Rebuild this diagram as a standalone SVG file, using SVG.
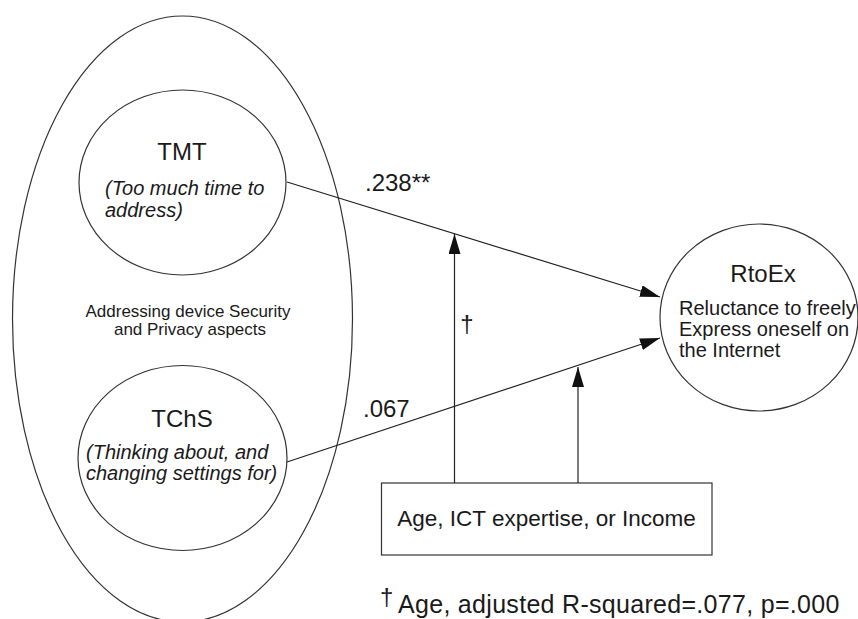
<svg xmlns="http://www.w3.org/2000/svg" width="858" height="619" viewBox="0 0 858 619">
  <style>
    .shape { fill: #ffffff; stroke: #333333; stroke-width: 1.2; }
    .edge { fill: none; stroke: #222222; stroke-width: 1.2; }
    .t { font-family: "Liberation Sans", Arial, sans-serif; fill: #1a1a1a; }
    .title { font-size: 24px; text-anchor: middle; }
    .sub { font-size: 20px; font-style: italic; }
    .body { font-size: 20px; }
    .small { font-size: 17px; text-anchor: middle; }
    .coef { font-size: 24px; }
  </style>
  <defs>
    <marker id="arrow" markerUnits="userSpaceOnUse" markerWidth="20" markerHeight="12" refX="20" refY="6" orient="auto">
      <path d="M0,0 L20,6 L0,12 z" fill="#111111"/>
    </marker>
  </defs>
  <rect width="858" height="619" fill="#ffffff"/>

  <!-- enclosing construct -->
  <g id="security-privacy">
    <ellipse class="shape" cx="182.5" cy="319" rx="170" ry="303"/>
    <text class="t small" x="188" y="317">Addressing device Security</text>
    <text class="t small" x="190" y="335">and Privacy aspects</text>
  </g>

  <g id="tmt">
    <ellipse class="shape" cx="182.5" cy="182.5" rx="103.5" ry="92.5"/>
    <text class="t title" x="182" y="160">TMT</text>
    <text class="t sub" x="105" y="195">(Too much time to</text>
    <text class="t sub" x="105" y="217">address)</text>
  </g>

  <g id="tchs">
    <ellipse class="shape" cx="182.5" cy="458" rx="104.5" ry="92.5"/>
    <text class="t title" x="182" y="427">TChS</text>
    <text class="t sub" x="86" y="459">(Thinking about, and</text>
    <text class="t sub" x="86" y="480">changing settings for)</text>
  </g>

  <g id="rtoex">
    <ellipse class="shape" cx="759" cy="317.5" rx="99" ry="93.5"/>
    <text class="t title" x="763" y="282">RtoEx</text>
    <text class="t body" x="679" y="315">Reluctance to freely</text>
    <text class="t body" x="679" y="336">Express oneself on</text>
    <text class="t body" x="679" y="357">the Internet</text>
  </g>

  <g id="moderators">
    <rect class="shape" x="381.5" y="483" width="330.5" height="72"/>
    <text class="t" x="546.5" y="526" font-size="22.5" text-anchor="middle">Age, ICT expertise, or Income</text>
  </g>

  <g id="connectors">
    <line class="edge" x1="287" y1="182" x2="660" y2="297" marker-end="url(#arrow)"/>
    <line class="edge" x1="287" y1="462" x2="660" y2="338" marker-end="url(#arrow)"/>
    <line class="edge" x1="454.5" y1="483" x2="454.5" y2="234" marker-end="url(#arrow)"/>
    <line class="edge" x1="578" y1="483" x2="578" y2="367" marker-end="url(#arrow)"/>
  </g>

  <g id="labels">
    <text class="t coef" x="365" y="191">.238**</text>
    <text class="t coef" x="363" y="417">.067</text>
    <text class="t coef" x="467" y="332" text-anchor="middle">†</text>
    <text class="t" x="380" y="605" font-size="24">†</text>
    <text class="t" x="398" y="613" font-size="25" letter-spacing="0.3">Age, adjusted R-squared=.077, p=.000</text>
  </g>
</svg>
